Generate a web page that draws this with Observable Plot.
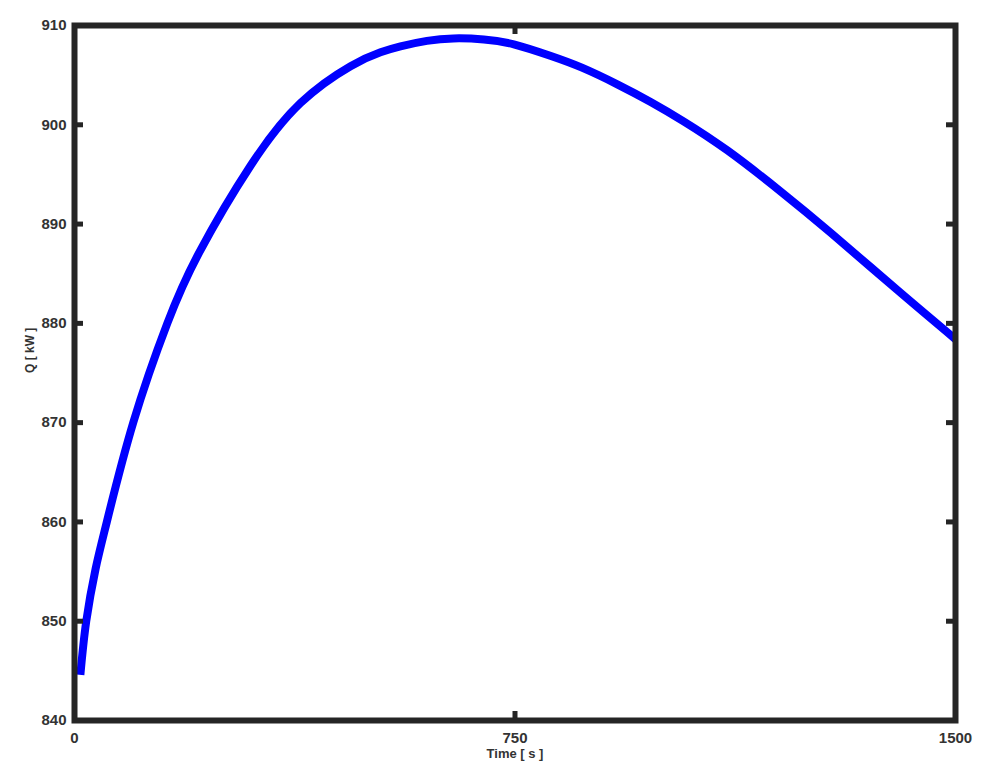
<!DOCTYPE html>
<html>
<head>
<meta charset="utf-8">
<script src="https://cdn.jsdelivr.net/npm/d3@7"></script>
<script src="https://cdn.jsdelivr.net/npm/@observablehq/plot@0.6"></script>
<style>
  html, body { margin: 0; padding: 0; background: #fff; }
  #chart svg { display: block; }
</style>
</head>
<body>
<div id="chart"></div>
<script>
// Data
const time = [10, 20, 36, 55, 100, 158, 212, 300, 385, 470, 521, 555, 600, 645, 697, 748, 810, 864, 925, 981, 1037, 1112, 1202, 1288, 1402, 1500];
const heat = [844.6, 850.0, 855.3, 860.0, 870.0, 880.0, 887.1, 895.9, 902.2, 905.9, 907.3, 907.9, 908.45, 908.7, 908.6, 908.1, 906.95, 905.75, 904.05, 902.3, 900.35, 897.4, 893.3, 889.1, 883.3, 878.4];
const xTicks = [0, 750, 1500];
const yTicks = [840, 850, 860, 870, 880, 890, 900, 910];
const xLabel = "Time [ s ]";
const yLabel = "Q [ kW ]";

const series = time.map((t, i) => ({t, q: heat[i]}));

const W = 1002, H = 770;
const mL = 74, mR = 47, mT = 25, mB = 50;
const innerW = W - mL - mR, innerH = H - mT - mB;
const frameColor = "#252525";
const textColor = "#333";
const tickLen = 9;

const chart = Plot.plot({
  width: W,
  height: H,
  marginLeft: mL,
  marginRight: mR,
  marginTop: mT,
  marginBottom: mB,
  style: {fontFamily: "'Liberation Sans', Arial, sans-serif", color: textColor, background: "#fff"},
  x: {domain: [0, 1500], ticks: xTicks},
  y: {domain: [840, 910], ticks: yTicks},
  marks: [
    Plot.axisX(xTicks, {tickSize: 0, tickPadding: 12, fontSize: 15, fontWeight: "bold", label: null, tickFormat: d => String(d)}),
    Plot.axisY(yTicks, {tickSize: 0, tickPadding: 8, fontSize: 15, fontWeight: "bold", label: null, tickFormat: d => String(d)}),
    Plot.line(series, {x: "t", y: "q", stroke: "#0000ff", strokeWidth: 8, curve: "natural", strokeLinecap: "butt"}),
    // inward ticks: left, right, bottom, top
    Plot.tickY(yTicks, {y: d => d, stroke: frameColor, strokeWidth: 5, insetRight: innerW - tickLen}),
    Plot.tickY(yTicks, {y: d => d, stroke: frameColor, strokeWidth: 5, insetLeft: innerW - tickLen}),
    Plot.tickX(xTicks, {x: d => d, stroke: frameColor, strokeWidth: 5, insetTop: innerH - tickLen}),
    Plot.tickX(xTicks, {x: d => d, stroke: frameColor, strokeWidth: 5, insetBottom: innerH - tickLen}),
    Plot.frame({stroke: frameColor, strokeWidth: 6}),
    Plot.text([xLabel], {text: d => d, frameAnchor: "bottom", dy: 37, fontSize: 13, fontWeight: "bold", fill: textColor}),
    Plot.text([yLabel], {text: d => d, frameAnchor: "left", dx: -44, rotate: -90, fontSize: 12, fontWeight: "bold", fill: textColor})
  ]
});
document.getElementById("chart").appendChild(chart);
</script>
</body>
</html>
